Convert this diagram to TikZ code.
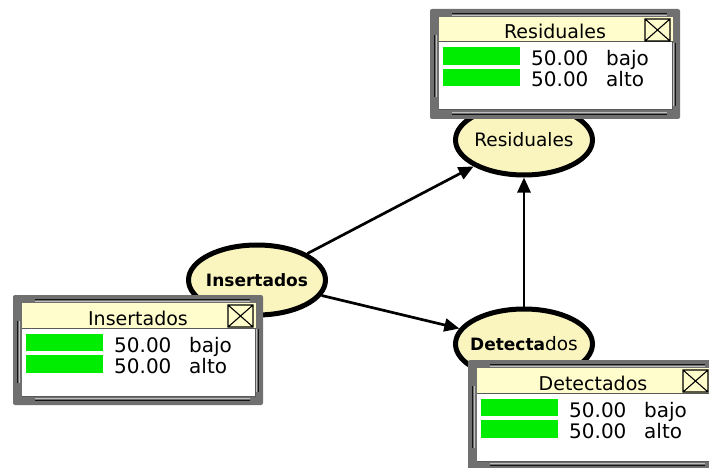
\documentclass[tikz,border=0pt]{standalone}
\usepackage{fontspec}
\setmainfont{DejaVu Sans}
\usetikzlibrary{arrows.meta,shapes.geometric}

\definecolor{nodefill}{RGB}{250,245,190}
\definecolor{titlefill}{RGB}{255,253,204}
\definecolor{framegray}{RGB}{112,112,112}
\definecolor{bumpdark}{RGB}{20,20,20}
\definecolor{bumplight}{RGB}{190,190,190}
\definecolor{bargreen}{RGB}{0,236,0}

\tikzset{
  varnode/.style={ellipse, draw=black, line width=5pt, fill=nodefill,
    minimum width=137pt, minimum height=70pt, inner sep=0pt},
  nodetext/.style={font=\fontsize{18.5}{20}\selectfont},
  boldtext/.style={font=\fontsize{17}{20}\selectfont\bfseries},
  link/.style={line width=2.7pt, -{Triangle[length=15pt,width=13pt]}},
  titletext/.style={inner sep=0pt, anchor=base, font=\fontsize{19}{20}\selectfont},
  valtext/.style={inner sep=0pt, anchor=base west, font=\fontsize{20}{20}\selectfont},
  bumpline/.style={draw=bumpdark, line width=1.4pt},
  bumphi/.style={draw=bumplight, line width=0.9pt},
  panelline/.style={draw=black!65, line width=1pt},
  closebox/.style={draw=black, line width=1.1pt},
}

% A monitor window with a title bar, a close box and two belief bars.
% #1 prefix for node names, #2 left, #3 top, #4 title
\newcommand\beliefwindow[4]{%
\begin{scope}[shift={(#2,#3)}]
  \fill[framegray, rounded corners=2pt] (0,0) rectangle (250,110);
  % frame bumps
  \draw[bumpline] (22,4.6) -- (237,4.6);
  \draw[bumphi]   (22,6.2) -- (237,6.2);
  \draw[bumpline] (22,105.4) -- (237,105.4);
  \draw[bumphi]   (22,103.8) -- (237,103.8);
  \draw[bumpline] (4.6,26) -- (4.6,88);
  \draw[bumphi]   (6.2,26) -- (6.2,88);
  \draw[bumpline] (245.4,34) -- (245.4,97);
  \draw[bumphi]   (243.8,34) -- (243.8,97);
  % title bar and panel
  \fill[titlefill] (9,8) rectangle (243,33);
  \fill[white] (9,33) rectangle (242,101);
  \draw[panelline] (9,33) -- (242,33) -- (242,101) -- (9,101);
  \node[titletext] (#1-title) at (125,30) {#4};
  \draw[closebox] (215,10) rectangle (240,32)
                  (215,10) -- (240,32) (215,32) -- (240,10);
  % belief bars
  \fill[bargreen] (13,38.5) rectangle (90,56);
  \fill[bargreen] (13,60) rectangle (90,77.5);
  \node[valtext] (#1-v1) at (101,57) {50.00};
  \node[valtext] (#1-s1) at (176,57) {bajo};
  \node[valtext] (#1-v2) at (101,78) {50.00};
  \node[valtext] (#1-s2) at (176,78) {alto};
\end{scope}}

\begin{document}
\begin{tikzpicture}[x=1pt,y=-1pt]
  \useasboundingbox (0,0) rectangle (709,468);
  \clip (0,0) rectangle (709,468);
  \fill[white] (0,0) rectangle (709,468);

  % network nodes
  \node[varnode, nodetext] (res) at (524,140) {\makebox[0pt]{Residuales}};
  \node[varnode, boldtext] (ins) at (257,280) {\makebox[0pt]{Insertados}};
  \node[varnode] (det) at (524,344)
    {\makebox[0pt]{{\fontsize{17}{20}\selectfont\bfseries Detecta}{\fontsize{18.5}{20}\selectfont dos}}};

  % dependencies
  \draw[link] (ins) -- (res);
  \draw[link] (ins) -- (det);
  \draw[link] (det) -- (res);

  % monitor windows
  \beliefwindow{wres}{430}{9}{Residuales}
  \beliefwindow{wins}{13}{295}{Insertados}
  \beliefwindow{wdet}{468}{360}{Detectados}
\end{tikzpicture}
\end{document}
